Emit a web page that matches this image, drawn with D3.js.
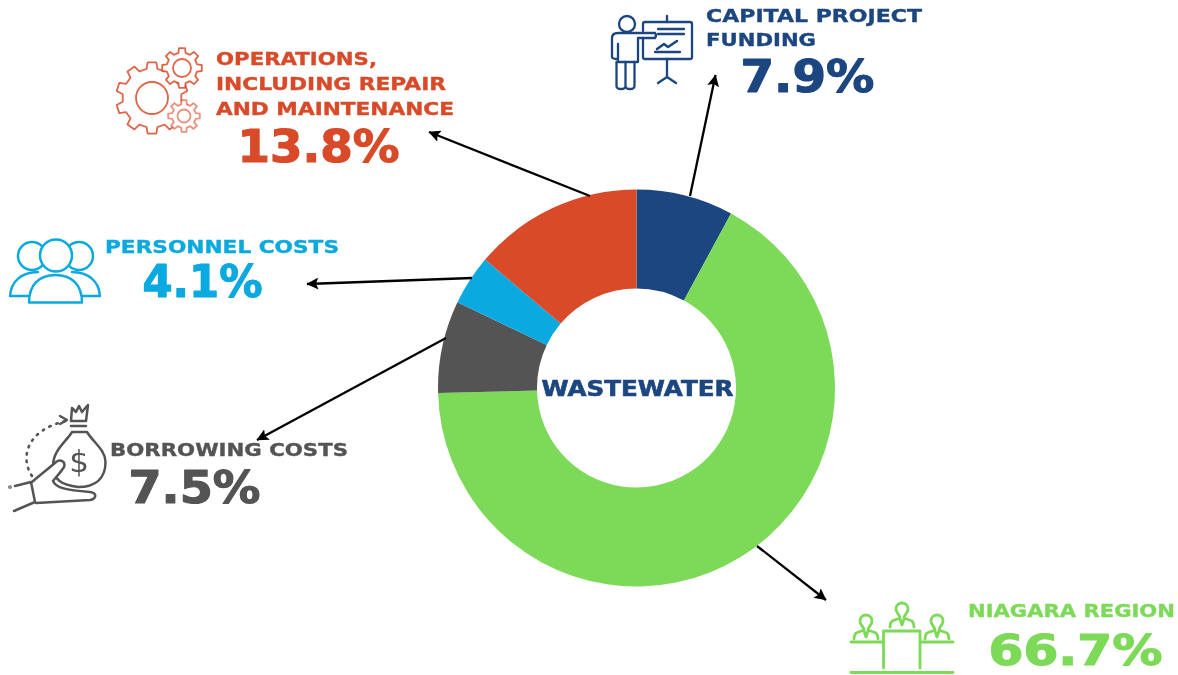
<!DOCTYPE html>
<html>
<head>
<meta charset="utf-8">
<script src="https://cdn.jsdelivr.net/npm/d3@7"></script>
<style>
html,body{margin:0;padding:0;background:#fff;overflow:hidden}
text{font-family:"DejaVu Sans",sans-serif;font-weight:700}
.soft{filter:blur(0.35px)}
</style>
</head>
<body>
<svg id="chart" width="1178" height="675"></svg>
<script>
// ---------- data ----------
const categories = ["Capital Project Funding","Niagara Region","Borrowing Costs","Personnel Costs","Operations, Including Repair and Maintenance"];
const values = [7.9, 66.7, 7.5, 4.1, 13.8];
const colors = ["#1c4680","#7dda58","#545454","#0aa9e0","#d84a28"];
const centerLabel = "WASTEWATER";
const labelLines = [["CAPITAL PROJECT","FUNDING"],["NIAGARA REGION"],["BORROWING COSTS"],["PERSONNEL COSTS"],["OPERATIONS,","INCLUDING REPAIR","AND MAINTENANCE"]];

// ---------- layout ----------
const center = {x:636.5, y:388, inner:99.5, outer:198.5};
// [x, baseline y, width] per label line, then [x, baseline y, width, font size] for the value
const lineLayout = [
  [[706,22.2,216],[706,46.2,110]],
  [[968,617.2,207]],
  [[110,456,238]],
  [[105,253,234]],
  [[216,65,161],[216,90,230],[216,115,238]]
];
const valueLayout = [[740.5,91.5,134,44],[988.5,664.8,174,42],[128.5,502.5,132,44],[142.5,296.5,120,44],[237.5,161.5,162,44]];
const arrows = [
  [690,196,715.5,75],
  [757,546,826,600],
  [446,338,257,440],
  [472,278,307,284],
  [590,196,429,132]
];

const svg = d3.select("#chart");
const defs = svg.append("defs");
defs.append("marker").attr("id","head").attr("viewBox","0 0 10 10").attr("refX",9.5).attr("refY",5)
  .attr("markerWidth",12).attr("markerHeight",12).attr("markerUnits","userSpaceOnUse").attr("orient","auto")
  .append("path").attr("d","M0,0 L10,5 L0,10 L2,5 Z").attr("fill","#000");

// ---------- donut ----------
const pie = d3.pie().sort(null).value(d=>d)(values);
const arc = d3.arc().innerRadius(center.inner).outerRadius(center.outer);
const g = svg.append("g").attr("transform",`translate(${center.x},${center.y})`);
g.selectAll("path").data(pie).join("path").attr("d",arc).attr("fill",(d,i)=>colors[i]);

const soft = svg.append("g").attr("class","soft");

soft.append("text").attr("x",541.5).attr("y",395.5).attr("font-size",20.5)
  .attr("textLength",192).attr("lengthAdjust","spacingAndGlyphs").attr("fill",colors[0])
  .attr("stroke",colors[0]).attr("stroke-width",0.6).text(centerLabel);

// ---------- arrows ----------
svg.selectAll("line.arrow").data(arrows).join("line").attr("class","arrow")
  .attr("x1",d=>d[0]).attr("y1",d=>d[1]).attr("x2",d=>d[2]).attr("y2",d=>d[3])
  .attr("stroke","#000").attr("stroke-width",2.3).attr("marker-end","url(#head)");

// ---------- labels ----------
categories.forEach((c,i)=>{
  labelLines[i].forEach((t,j)=>{
    const l = lineLayout[i][j];
    soft.append("text").attr("x",l[0]).attr("y",l[1]).attr("font-size",17)
      .attr("textLength",l[2]).attr("lengthAdjust","spacingAndGlyphs").attr("fill",colors[i])
      .attr("stroke",colors[i]).attr("stroke-width",0.35).text(t);
  });
  const v = valueLayout[i];
  soft.append("text").attr("x",v[0]).attr("y",v[1]).attr("font-size",v[3])
    .attr("textLength",v[2]).attr("lengthAdjust","spacingAndGlyphs").attr("fill",colors[i])
    .attr("stroke",colors[i]).attr("stroke-width",1.2).attr("stroke-linejoin","round")
    .text(values[i].toFixed(1)+"%");
});

// ---------- icons ----------
function icon(color, w){
  return soft.append("g").attr("fill","none").attr("stroke",color).attr("stroke-width",w)
    .attr("stroke-linecap","round").attr("stroke-linejoin","round");
}
function gearPath(cx,cy,ro,ri,teeth){
  const pts=[], step=2*Math.PI/teeth;
  for(let i=0;i<teeth;i++){
    const a=i*step-Math.PI/2;
    [[-0.30,ri],[-0.19,ro],[0.19,ro],[0.30,ri]].forEach(([f,r])=>{
      pts.push([cx+r*Math.cos(a+f*step),cy+r*Math.sin(a+f*step)]);
    });
  }
  return "M"+pts.map(p=>p[0].toFixed(1)+","+p[1].toFixed(1)).join("L")+"Z";
}
// gears
const ig = icon(colors[4],1.8);
[[152,98,36,29.5,16,10],[182,68,20,15.5,9,8],[184,116,16,12,6.5,8]].forEach(([x,y,ro,ri,rc,n],k)=>{
  ig.append("path").attr("d",gearPath(x,y,ro,ri,n)).attr("fill","#fff").attr("stroke-opacity",k==2?0.6:0.85);
  ig.append("circle").attr("cx",x).attr("cy",y).attr("r",rc).attr("stroke-opacity",k==2?0.6:0.85);
});
// people
const ip = icon(colors[3],2.5);
ip.append("circle").attr("cx",32).attr("cy",256).attr("r",14);
ip.append("circle").attr("cx",79).attr("cy",256).attr("r",14);
ip.append("path").attr("d","M10,296 C11,281 22,272 38,272 M10,296 H29");
ip.append("path").attr("d","M100,296 C99,281 88,272 72,272 M100,296 H81");
ip.append("circle").attr("cx",56).attr("cy",255.5).attr("r",16).attr("fill","#fff");
ip.append("path").attr("d","M29,302.5 C29,285 39,275 55.5,275 C72,275 82,285 82,302.5 Z").attr("fill","#fff");
// presenter
const ic = icon(colors[0],2.3);
ic.append("circle").attr("cx",627).attr("cy",24).attr("r",8);
ic.append("path").attr("d","M655,33 H618 Q612,33 612,38 V57 Q612,59 618,59 M618,44 V62 H638 V38 H655 Q657,35 655,33");
ic.append("path").attr("d","M616.5,62 V86 Q616.5,89 621,89 Q625.5,89 625.5,86 V62 M625.5,62 V86 Q625.5,89 630,89 Q634.5,89 634.5,86 V62");
ic.append("path").attr("d","M643,31 V24 Q643,22 645,22 H690 Q692,22 692,24 V57 Q692,59 690,59 H645 Q643,59 643,57 V38");
ic.append("path").attr("d","M667,16 V22 M667,59 V77 M658,83 L667,77 L676,83");
ic.append("path").attr("d","M658,29 H684 M658,34 H684 M655,52 H680");
ic.append("path").attr("d","M657,49 L664,44 L668,47 L677,41").attr("stroke-width",2.6);
// money bag
const im = icon(colors[2],2.5);
im.append("path").attr("d","M72,408 L71,421 H86 L88,405 L82,412 L79,406 L76,412 Z");
im.append("path").attr("d","M71,426 H86");
im.append("path").attr("d","M72,432 C66,442 53,450 53,466 C53,480 62,485 78,487 C96,487 105.5,478 105.5,462 C105.5,450 93,442 87,432 Z").attr("fill","#fff");
im.append("text").attr("x",79).attr("y",472).attr("text-anchor","middle").attr("font-size",31).attr("stroke","none")
  .attr("fill",colors[2]).style("font-weight",400).text("$");
im.append("path").attr("d","M32,482 C40,475 48,469 56,462 C60,459 66,461 64,467 C61,472 56,477 53,481 C56,488 66,490 90,492 C98,493 96,499 90,500 L36,503 M15,486 L31,482 L35,502 L14,511").attr("fill","#fff");
im.append("path").attr("d","M32,476 C20,458 26,430 66,421").attr("stroke-dasharray","1.5 6").attr("stroke-width",2.6);
im.append("path").attr("d","M60,416 L67,420 L60,424");
im.append("circle").attr("cx",10).attr("cy",487).attr("r",0.6);
// council
const in_ = icon(colors[1],2.8);
in_.append("path").attr("d","M851,642 H883 M920,642 H953 M851,672.5 H953 M883.5,668 V631 H920 V668");
[[866,622],[902,610],[937,622]].forEach(([x,y])=>{
  in_.append("path").attr("d",`M${x-6},${y-1} C${x-6},${y-9} ${x+6},${y-9} ${x+6},${y-1} C${x+6},${y+3} ${x+2},${y+5} ${x+2},${y+8} L${x+10},${y+11} Q${x+12},${y+13} ${x+12},${y+17} M${x-6},${y-1} C${x-6},${y+3} ${x-2},${y+5} ${x-2},${y+8} L${x-10},${y+11} Q${x-12},${y+13} ${x-12},${y+17} M${x-2},${y+9} L${x},${y+15} L${x+2},${y+9}`);
});
</script>
</body>
</html>
